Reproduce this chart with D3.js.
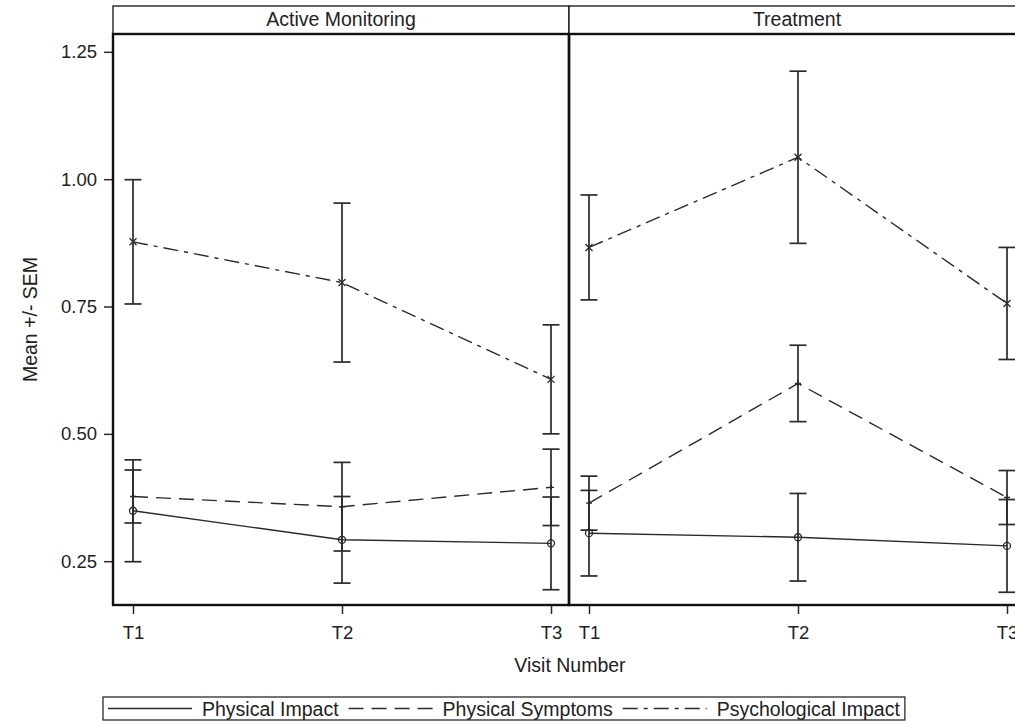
<!DOCTYPE html>
<html>
<head>
<meta charset="utf-8">
<script src="https://cdn.jsdelivr.net/npm/d3@7"></script>
<style>
  html, body { margin: 0; padding: 0; background: #fff; overflow: hidden; }
  svg { display: block; }
  text { font-family: "Liberation Sans", Arial, sans-serif; fill: #222; }
</style>
</head>
<body>
<svg id="chart" width="1015" height="721"></svg>
<script>
// ---------- data ----------
const categories = ["T1", "T2", "T3"];
const panels = ["Active Monitoring", "Treatment"];
const seriesNames = ["Physical Impact", "Physical Symptoms", "Psychological Impact"];
const yTicks = [0.25, 0.50, 0.75, 1.00, 1.25];

// Active Monitoring
const amPhysicalImpact      = [0.349, 0.292, 0.285];
const amPhysicalImpactSem   = [0.100, 0.085, 0.091];
const amPhysicalSymptoms    = [0.377, 0.357, 0.395];
const amPhysicalSymptomsSem = [0.052, 0.087, 0.075];
const amPsychImpact         = [0.877, 0.797, 0.607];
const amPsychImpactSem      = [0.122, 0.156, 0.107];
// Treatment
const trPhysicalImpact      = [0.305, 0.297, 0.280];
const trPhysicalImpactSem   = [0.084, 0.086, 0.091];
const trPhysicalSymptoms    = [0.364, 0.599, 0.375];
const trPhysicalSymptomsSem = [0.053, 0.075, 0.053];
const trPsychImpact         = [0.866, 1.043, 0.756];
const trPsychImpactSem      = [0.103, 0.169, 0.110];

const panelData = [
  [
    { name: seriesNames[0], mean: amPhysicalImpact, sem: amPhysicalImpactSem },
    { name: seriesNames[1], mean: amPhysicalSymptoms, sem: amPhysicalSymptomsSem },
    { name: seriesNames[2], mean: amPsychImpact, sem: amPsychImpactSem }
  ],
  [
    { name: seriesNames[0], mean: trPhysicalImpact, sem: trPhysicalImpactSem },
    { name: seriesNames[1], mean: trPhysicalSymptoms, sem: trPhysicalSymptomsSem },
    { name: seriesNames[2], mean: trPsychImpact, sem: trPsychImpactSem }
  ]
];

// ---------- styles ----------
const ink = "#2a2a2a";
const frameInk = "#111";
const dashes = { "Physical Impact": null, "Physical Symptoms": "15,8", "Psychological Impact": "15,6,4,6" };
const labelSize = 19.5;
const tickSize = 18.5;
const ff = '"Liberation Sans", Arial, sans-serif';

// ---------- layout ----------
const svg = d3.select("#chart");
const headerTop = 6, plotTop = 34, plotBottom = 605;
const panelLeft0 = 113, panelWidth = 456;

const y = d3.scaleLinear().domain([0.164, 1.285]).range([plotBottom, plotTop]);

// y axis
const yAxis = svg.append("g")
  .attr("transform", `translate(${panelLeft0},0)`)
  .call(d3.axisLeft(y).tickValues(yTicks).tickFormat(d3.format(".2f")).tickSize(9).tickPadding(7));
yAxis.select(".domain").remove();
yAxis.selectAll("line").attr("stroke", ink).attr("stroke-width", 1.5);
yAxis.selectAll("text").attr("font-size", tickSize).attr("fill", ink).style("font-family", ff);

svg.append("text")
  .attr("transform", `translate(37,${(plotTop + plotBottom) / 2}) rotate(-90)`)
  .attr("text-anchor", "middle")
  .attr("font-size", labelSize)
  .text("Mean +/- SEM");

panels.forEach((p, pi) => {
  const left = panelLeft0 + pi * panelWidth;
  const x = d3.scalePoint().domain(categories).range([left + 20, left + panelWidth - 18]);
  const g = svg.append("g");

  // header strip
  g.append("rect").attr("x", left).attr("y", headerTop).attr("width", panelWidth).attr("height", plotTop - headerTop)
    .attr("fill", "#fff").attr("stroke", frameInk).attr("stroke-width", 1.3);
  g.append("text").attr("x", left + panelWidth / 2).attr("y", plotTop - 8)
    .attr("text-anchor", "middle").attr("font-size", labelSize).text(p);

  // x axis
  const xAxis = g.append("g").attr("transform", `translate(0,${plotBottom})`)
    .call(d3.axisBottom(x).tickSize(9).tickPadding(12));
  xAxis.select(".domain").remove();
  xAxis.selectAll("line").attr("stroke", ink).attr("stroke-width", 1.5);
  xAxis.selectAll("text").attr("font-size", tickSize).attr("fill", ink).style("font-family", ff);

  const series = panelData[pi];
  // error bars
  series.forEach(s => {
    categories.forEach((c, i) => {
      const cx = x(c), hi = y(s.mean[i] + s.sem[i]), lo = y(s.mean[i] - s.sem[i]);
      g.append("line").attr("x1", cx).attr("x2", cx).attr("y1", hi).attr("y2", lo).attr("stroke", ink).attr("stroke-width", 1.7);
      [hi, lo].forEach(yy => g.append("line").attr("x1", cx - 8.5).attr("x2", cx + 8.5).attr("y1", yy).attr("y2", yy)
        .attr("stroke", ink).attr("stroke-width", 1.7));
    });
  });
  // lines
  series.forEach(s => {
    const line = d3.line().x((d, i) => x(categories[i])).y(d => y(d));
    g.append("path").datum(s.mean).attr("d", line).attr("fill", "none").attr("stroke", ink).attr("stroke-width", 1.4)
      .attr("stroke-dasharray", dashes[s.name]);
  });
  // markers
  series.forEach((s, si) => {
    categories.forEach((c, i) => {
      const cx = x(c), cy = y(s.mean[i]);
      if (si === 0) {
        g.append("circle").attr("cx", cx).attr("cy", cy).attr("r", 3.5).attr("fill", "none").attr("stroke", ink).attr("stroke-width", 1.3);
      } else if (si === 1) {
        g.append("path").attr("d", `M${cx - 3},${cy}H${cx + 3}M${cx},${cy - 3}V${cy + 3}`).attr("stroke", ink).attr("stroke-width", 1.4);
      } else {
        g.append("path").attr("d", `M${cx - 3.5},${cy - 3.5}L${cx + 3.5},${cy + 3.5}M${cx - 3.5},${cy + 3.5}L${cx + 3.5},${cy - 3.5}`)
          .attr("stroke", ink).attr("stroke-width", 1.3);
      }
    });
  });

  // panel frame
  g.append("rect").attr("x", left).attr("y", plotTop).attr("width", panelWidth).attr("height", plotBottom - plotTop)
    .attr("fill", "none").attr("stroke", frameInk).attr("stroke-width", 2.4);
});

// x title
svg.append("text").attr("x", 570).attr("y", 672).attr("text-anchor", "middle").attr("font-size", labelSize).text("Visit Number");

// legend
const legend = svg.append("g");
const legX = 103, legY = 697, legH = 23;
let cur = legX + 5;
const items = legend.selectAll("g.item").data(seriesNames).join("g").attr("class", "item");
items.each(function (d) {
  const gi = d3.select(this);
  gi.append("line").attr("x1", cur).attr("x2", cur + 84).attr("y1", legY + legH / 2).attr("y2", legY + legH / 2)
    .attr("stroke", ink).attr("stroke-width", 1.4).attr("stroke-dasharray", dashes[d]);
  const t = gi.append("text").attr("x", cur + 94).attr("y", legY + legH / 2 + 7).attr("font-size", labelSize).text(d);
  const w = t.node().getComputedTextLength();
  cur = cur + 94 + w + 10;
});
legend.insert("rect", ":first-child").attr("x", legX).attr("y", legY).attr("width", cur - legX - 5).attr("height", legH)
  .attr("fill", "#fff").attr("stroke", ink).attr("stroke-width", 1.3);
</script>
</body>
</html>
